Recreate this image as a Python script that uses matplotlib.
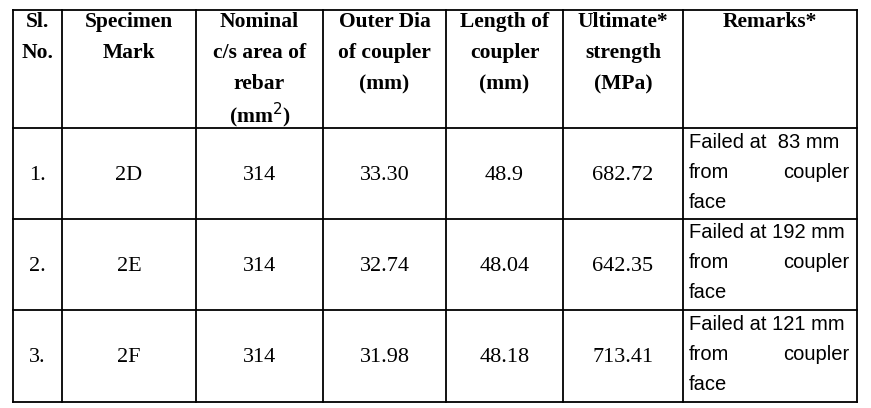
import matplotlib
matplotlib.use("Agg")
import matplotlib.pyplot as plt

headers = ["Sl.\nNo.", "Specimen\nMark", "Nominal\nc/s area of\nrebar\n(mm$^{2}$)",
           "Outer Dia\nof coupler\n(mm)", "Length of\ncoupler\n(mm)",
           "Ultimate*\nstrength\n(MPa)", "Remarks*"]
sl_no = ["1.", "2.", "3."]
marks = ["2D", "2E", "2F"]
area = ["314", "314", "314"]
outer_dia = ["33.30", "32.74", "31.98"]
length = ["48.9", "48.04", "48.18"]
strength = ["682.72", "642.35", "713.41"]
remarks = [("Failed at  83 mm", "from", "coupler", "face"),
           ("Failed at 192 mm", "from", "coupler", "face"),
           ("Failed at 121 mm", "from", "coupler", "face")]

W, H = 871, 408
fig = plt.figure(figsize=(W/100, H/100), dpi=100)
ax = fig.add_axes([0, 0, 1, 1])
ax.set_xlim(0, W); ax.set_ylim(H, 0); ax.axis("off")

xs = [13, 62, 196, 323, 446, 563, 683, 857]
ys = [10, 128, 219, 310, 402]
for x in xs:
    ax.plot([x, x], [ys[0], ys[-1]], color="black", lw=1.3)
for y in ys:
    ax.plot([xs[0], xs[-1]], [y, y], color="black", lw=1.3)

serif = "Liberation Serif"
for i, h in enumerate(headers):
    lines = h.split("\n")
    cx = (xs[i] + xs[i+1]) / 2
    for j, ln in enumerate(lines):
        ax.text(cx, 22 + j * 31, ln, ha="center", va="center", family=serif,
                fontweight="bold", fontsize=15.5)

cols = [sl_no, marks, area, outer_dia, length, strength]
for r in range(3):
    cy = (ys[r+1] + ys[r+2]) / 2 + 2
    for c, col in enumerate(cols):
        ax.text((xs[c] + xs[c+1]) / 2, cy, col[r], ha="center", va="center",
                family=serif, fontsize=16)
    rm = remarks[r]
    x0, x1 = xs[6] + 6, xs[7] - 8
    top = ys[r+1] + 14
    kw = dict(va="center", family="Liberation Sans", fontsize=14.5)
    ax.text(x0, top, rm[0], ha="left", **kw)
    ax.text(x0, top + 30, rm[1], ha="left", **kw)
    ax.text(x1, top + 30, rm[2], ha="right", **kw)
    ax.text(x0, top + 60, rm[3], ha="left", **kw)

fig.savefig("out.png", dpi=100)
